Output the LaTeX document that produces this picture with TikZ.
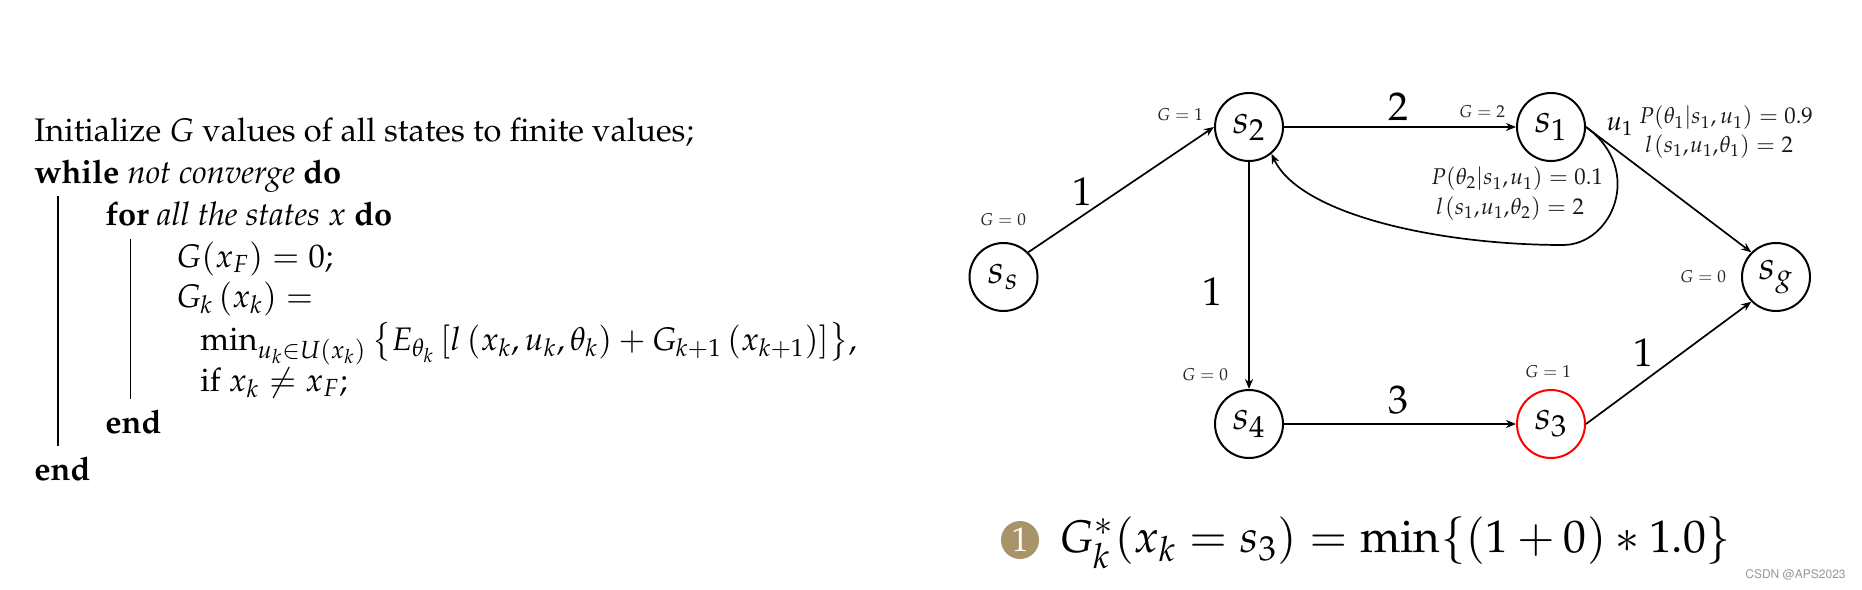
\documentclass[tikz,border=0pt]{standalone}
\usepackage[T1]{fontenc}
\usepackage{mathpazo}
\usepackage{amsmath}
\usetikzlibrary{arrows.meta}
\definecolor{bulletc}{HTML}{A89468}
\newcommand{\szA}{\fontsize{16.3}{19}\selectfont}
\newcommand{\szB}{\fontsize{20}{24}\selectfont}
\newcommand{\szC}{\fontsize{8.6}{10}\selectfont}
\newcommand{\szD}{\fontsize{11.4}{13}\selectfont}
\newcommand{\szE}{\fontsize{22.85}{28}\selectfont}
\tikzset{
  state/.style={circle,draw=black,line width=1pt,minimum size=34pt,inner sep=0pt,font=\szB},
  edge/.style={line width=0.85pt,-{Stealth[length=5pt,width=4pt]}},
  edgeflat/.style={line width=1.05pt,-{Stealth[length=5pt,width=4pt]}},
  weight/.style={inner sep=0pt,font=\szB},
  gval/.style={inner sep=0pt,font=\szC,text=black!85},
  prob/.style={inner sep=0pt,font=\szD,text=black!90},
  algo/.style={anchor=base west,inner sep=0pt,font=\szA},
  rule/.style={line width=0.6pt},
  rulethin/.style={line width=0.5pt},
}
\begin{document}
\begin{tikzpicture}[x=0.5pt,y=-0.5pt]
\useasboundingbox (0,0) rectangle (1862,589);
% algorithm
\node[algo] (a1) at (34,141) {Initialize $G$ values of all states to finite values;};
\node[algo] (a2) at (34,183) {\textbf{while} \textit{not converge} \textbf{do}};
\node[algo] (a3) at (105,225) {\textbf{for} \textit{all the states $x$} \textbf{do}};
\node[algo] (a4) at (176,267) {$G(x_F)=0$;};
\node[algo] (a5) at (176,307) {$G_k\left(x_k\right)=$};
\node[algo] (a6) at (200,350) {$\min_{u_k\in U(x_k)}\left\{E_{\theta_k}\left[l\left(x_k,u_k,\theta_k\right)+G_{k+1}\left(x_{k+1}\right)\right]\right\}$,};
\node[algo] (a7) at (200,391) {if $x_k\neq x_F$;};
\node[algo] (a8) at (105,433) {\textbf{end}};
\node[algo] (a9) at (34,480) {\textbf{end}};
\coordinate (r1t) at (58,196); \coordinate (r1b) at (58,446);
\coordinate (r2t) at (130,239); \coordinate (r2b) at (130,399);
\draw[rule] (r1t) -- (r1b);
\draw[rulethin] (r2t) -- (r2b);
% states
\node[state] (ss) at (1003.5,277) {$s_s$};
\node[state] (s2) at (1249,127) {$s_2$};
\node[state] (s1) at (1551,127) {$s_1$};
\node[state] (sg) at (1776,277) {$s_g$};
\node[state] (s4) at (1249,424) {$s_4$};
\node[state,draw=red] (s3) at (1551,424) {$s_3$};
% edges
\draw[edge] (ss.45) -- (s2.west);
\draw[edgeflat] (s2) -- (s1);
\draw[edge] (s2) -- (s4);
\draw[edgeflat] (s4) -- (s3);
\draw[edge] (s3.east) -- (sg.225);
\draw[edge] (s1.east) -- (sg.135);
\draw[edge] (s1.east) .. controls (1645,170) and (1612,245) .. (1563,245)
   .. controls (1440,245) and (1300,215) .. (s2.-50);
% weights
\node[weight] (w1) at (1082.5,192) {$1$};
\node[weight] (w2) at (1398,107) {$2$};
\node[weight] (w3) at (1212,292) {$1$};
\node[weight] (w4) at (1398,400) {$3$};
\node[weight] (w5) at (1643,353) {$1$};
% G values
\node[gval] (g1) at (1003,220) {$G=0$};
\node[gval] (g2) at (1180,115) {$G=1$};
\node[gval] (g3) at (1482,112) {$G=2$};
\node[gval] (g4) at (1703,277) {$G=0$};
\node[gval] (g5) at (1205,375) {$G=0$};
\node[gval] (g6) at (1548,372) {$G=1$};
% probabilities
\node[inner sep=0pt,font=\fontsize{13.5}{15}\selectfont] (u1) at (1620,127) {$u_1$};
\node[prob] (p1) at (1726,118) {$P(\theta_1|s_1,u_1)=0.9$};
\node[prob] (l1) at (1719,147) {\thinmuskip=1mu $l\left(s_1,u_1,\theta_1\right)=2$};
\node[prob] (p2) at (1517,179) {\thinmuskip=1.5mu $P(\theta_2|s_1,u_1)=0.1$};
\node[prob] (l2) at (1510,209) {\thinmuskip=1mu $l\left(s_1,u_1,\theta_2\right)=2$};
% bottom formula
\node[circle,fill=bulletc,minimum size=19pt,inner sep=0pt,text=white,font=\fontsize{17}{19}\selectfont] (b) at (1020,540) {1};
\node[anchor=base west,inner sep=0pt,font=\szE] (f) at (1059,552) {$G_k^{*}(x_k=s_3)=\min\{(1+0)*1.0\}$};
\node[anchor=east,inner sep=0pt,text=black!40,font=\fontfamily{phv}\fontsize{6}{8}\selectfont] (wm) at (1846,574) {CSDN @APS2023};
\end{tikzpicture}
\end{document}
